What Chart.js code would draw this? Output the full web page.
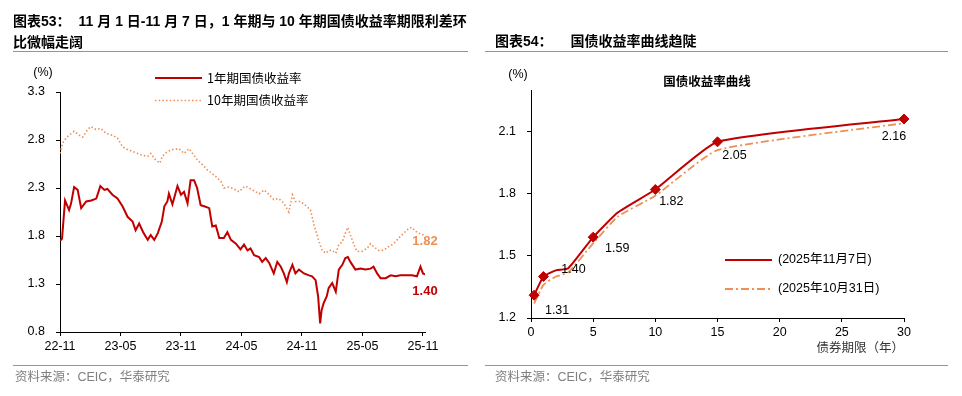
<!DOCTYPE html>
<html>
<head>
<meta charset="utf-8">
<script src="https://cdn.jsdelivr.net/npm/chart.js@4.4.0/dist/chart.umd.min.js"></script>
<style>
body{margin:0;background:#fff;width:962px;height:396px;position:relative;overflow:hidden;font-family:"Liberation Sans","Noto Sans CJK SC",sans-serif;}
canvas{position:absolute;top:0;}
.t{position:absolute;font-weight:bold;font-size:14px;line-height:21px;color:#000;white-space:nowrap;}
.rule{position:absolute;height:0;border-top:1px solid #8497b0;}
.src{position:absolute;font-size:12.5px;line-height:15px;color:#7f7f7f;white-space:nowrap;}
</style>
</head>
<body>
<canvas id="c1" width="480" height="396" style="left:0"></canvas>
<canvas id="c2" width="482" height="396" style="left:480px"></canvas>

<div class="t" style="left:13px;top:11px">图表53：<span style="margin-left:8px">11 月 1 日-11 月 7 日，1 年期与 10 年期国债收益率期限利差环</span><br>比微幅走阔</div>
<div class="rule" style="left:13px;top:51px;width:455px"></div>
<div class="rule" style="left:13px;top:365px;width:455px"></div>
<div class="src" style="left:15px;top:370px">资料来源：CEIC，华泰研究</div>

<div class="t" style="left:495px;top:31px">图表54：<span style="margin-left:18px">国债收益率曲线趋陡</span></div>
<div class="rule" style="left:485px;top:51px;width:463px"></div>
<div class="rule" style="left:485px;top:365px;width:463px"></div>
<div class="src" style="left:495px;top:370px">资料来源：CEIC，华泰研究</div>

<script>
// ---- left chart data (x = months since 2022-11) ----
var dateTicks = ['22-11','23-05','23-11','24-05','24-11','25-05','25-11'];
var tickMonths = [0, 6, 12, 18, 24, 30, 36];
var yTicksLeft = [0.8, 1.3, 1.8, 2.3, 2.8, 3.3];

var months1y = [0, 0.2, 0.5, 0.9, 1.1, 1.4, 1.75, 2.1, 2.6, 3.1, 3.6, 4.0, 4.4, 4.7, 5.2, 5.7, 6.2, 6.7, 7.2, 7.5,
  7.85, 8.25, 8.7, 9.0, 9.35, 9.7, 10.1, 10.35, 10.65, 10.8, 11.15, 11.65, 12.0, 12.3, 12.65, 12.95, 13.3, 13.6, 13.95, 14.3,
  14.8, 15.1, 15.45, 15.8, 16.25, 16.6, 16.95, 17.45, 17.9, 18.25, 18.6, 18.9, 19.25, 19.75, 20.05, 20.4, 20.75, 21.2, 21.55, 21.9,
  22.2, 22.5, 22.7, 23.05, 23.35, 23.7, 24.2, 24.7, 25.0, 25.35, 25.6, 25.8, 25.95, 26.15, 26.45, 26.65, 27.0, 27.35, 27.65, 28.0,
  28.3, 28.55, 28.8, 29.3, 29.8, 30.3, 30.8, 31.1, 31.45, 31.8, 32.3, 32.8, 33.3, 33.75, 34.4, 34.9, 35.4, 35.75, 36.0, 36.2];
var yield1y = [1.75, 1.77, 2.17, 2.07, 2.14, 2.31, 2.28, 2.09, 2.16, 2.17, 2.19, 2.32, 2.28, 2.29, 2.23, 2.19, 2.11, 2.00, 1.95, 1.86,
  1.93, 1.84, 1.76, 1.81, 1.76, 1.83, 1.95, 2.11, 2.16, 2.24, 2.13, 2.32, 2.23, 2.26, 2.14, 2.38, 2.38, 2.30, 2.12, 2.11,
  2.09, 1.90, 1.91, 1.78, 1.78, 1.84, 1.76, 1.72, 1.66, 1.71, 1.65, 1.67, 1.60, 1.58, 1.53, 1.57, 1.52, 1.41, 1.53, 1.48,
  1.41, 1.32, 1.41, 1.50, 1.41, 1.45, 1.41, 1.39, 1.38, 1.34, 1.17, 0.89, 1.03, 1.10, 1.17, 1.26, 1.31, 1.22, 1.45, 1.50,
  1.57, 1.58, 1.53, 1.45, 1.46, 1.45, 1.46, 1.48, 1.41, 1.36, 1.36, 1.39, 1.38, 1.39, 1.39, 1.39, 1.38, 1.48, 1.41, 1.40];

var months10y = [0, 0.26, 0.6, 0.9, 1.4, 1.9, 2.25, 2.75, 3.05, 3.55, 4.05, 4.55, 5.2, 5.7, 6.2, 6.7, 7.2, 7.7, 8.2, 8.7,
  9.0, 9.5, 9.9, 10.15, 10.65, 11.15, 11.8, 12.3, 12.8, 13.15, 13.65, 14.15, 14.6, 15.1, 15.45, 15.95, 16.25, 16.75, 17.25, 17.75,
  18.25, 18.4, 19.1, 19.75, 20.25, 20.75, 21.2, 21.7, 22.2, 22.7, 23.05, 23.35, 23.85, 24.35, 24.85, 25.2, 25.7, 26.0, 26.35, 26.65,
  27.0, 27.35, 27.65, 28.0, 28.3, 28.55, 28.8, 29.15, 29.45, 29.95, 30.45, 30.8, 31.1, 31.6, 32.1, 32.6, 33.1, 33.6, 34.1, 34.6,
  34.9, 35.25, 35.6, 35.9, 36.2];
var yield10y = [2.66, 2.77, 2.82, 2.85, 2.89, 2.85, 2.83, 2.91, 2.94, 2.91, 2.92, 2.87, 2.85, 2.82, 2.73, 2.70, 2.68, 2.66, 2.64, 2.63,
  2.66, 2.59, 2.56, 2.63, 2.68, 2.70, 2.71, 2.66, 2.71, 2.66, 2.59, 2.54, 2.49, 2.45, 2.42, 2.37, 2.30, 2.31, 2.29, 2.26,
  2.31, 2.32, 2.28, 2.24, 2.28, 2.23, 2.18, 2.19, 2.14, 2.05, 2.23, 2.16, 2.16, 2.12, 2.07, 1.91, 1.74, 1.65, 1.62, 1.65,
  1.65, 1.62, 1.71, 1.74, 1.83, 1.89, 1.81, 1.71, 1.64, 1.64, 1.67, 1.72, 1.69, 1.65, 1.65, 1.69, 1.72, 1.78, 1.83, 1.88,
  1.89, 1.85, 1.83, 1.81, 1.82];

// ---- right chart data (yield curve) ----
var tenors = [0.25, 1, 2, 3, 5, 7, 10, 15, 30];
var curveNov7 = [1.31, 1.40, 1.43, 1.44, 1.59, 1.71, 1.82, 2.05, 2.16];
var curveOct31 = [1.27, 1.36, 1.40, 1.42, 1.56, 1.69, 1.79, 2.01, 2.14];
var markedTenors = [0.25, 1, 5, 10, 15, 30];
var yTicksRight = [1.2, 1.5, 1.8, 2.1];

function pairs(xs, ys) {
  return xs.map(function (x, i) { return {x: x, y: ys[i]}; });
}

Chart.defaults.font.family = '"Liberation Sans", "Noto Sans CJK SC", sans-serif';
Chart.defaults.color = '#000';

var RED = '#C00000';
var ORANGE = '#EE8F55';

// legend, unit and end labels of the left chart
const leftDecor = {
  id: 'leftDecor',
  afterDatasetsDraw(chart) {
    const ctx = chart.ctx;
    ctx.save();
    ctx.textBaseline = 'middle';
    ctx.fillStyle = '#000';
    ctx.font = '12.5px "Liberation Sans"';
    ctx.textAlign = 'center';
    ctx.fillText('(%)', 43, 73);
    chart.data.datasets.forEach(function (ds, i) {
      var y = 78 + i * 22.5;
      ctx.strokeStyle = ds.borderColor;
      ctx.lineWidth = ds.borderWidth;
      ctx.setLineDash(ds.borderDash || []);
      ctx.beginPath(); ctx.moveTo(155, y); ctx.lineTo(202, y); ctx.stroke();
      ctx.setLineDash([]);
      ctx.fillStyle = '#000';
      ctx.textAlign = 'left';
      ctx.font = '12.5px "Noto Sans CJK SC"';
      ctx.fillText(ds.label, 207, y);
      // value label at the end of the line
      var pts = chart.getDatasetMeta(i).data;
      var last = pts[pts.length - 1];
      var val = ds.data[ds.data.length - 1].y;
      ctx.font = 'bold 13px "Liberation Sans"';
      ctx.fillStyle = ds.borderColor;
      ctx.textAlign = 'center';
      ctx.fillText(val.toFixed(2), last.x, last.y + (i === 0 ? 17 : 7));
    });
    ctx.restore();
  }
};

new Chart(document.getElementById('c1'), {
  type: 'line',
  data: {
    datasets: [
      {label: '1年期国债收益率', data: pairs(months1y, yield1y), borderColor: RED, borderWidth: 2, pointRadius: 0},
      {label: '10年期国债收益率', data: pairs(months10y, yield10y), borderColor: ORANGE, borderWidth: 1.6, borderDash: [1.5, 2.2], pointRadius: 0}
    ]
  },
  options: {
    responsive: false,
    animation: false,
    layout: {padding: {left: 0, top: 92, right: 55, bottom: 0}},
    plugins: {legend: {display: false}, tooltip: {enabled: false}},
    scales: {
      x: {
        type: 'linear', min: 0, max: 36.2,
        afterBuildTicks: function (s) { s.ticks = tickMonths.map(function (v) { return {value: v}; }); },
        afterFit: function (s) { s.height = 64; },
        ticks: {callback: function (v, i) { return dateTicks[i]; }, font: {size: 12.5}, padding: 3, maxRotation: 0, autoSkip: false},
        grid: {drawOnChartArea: false, tickLength: 4, color: '#000'},
        border: {color: '#000'}
      },
      y: {
        min: 0.8, max: 3.3,
        afterBuildTicks: function (s) { s.ticks = yTicksLeft.map(function (v) { return {value: v}; }); },
        afterFit: function (s) { s.width = 60; },
        ticks: {callback: function (v) { return v.toFixed(1); }, font: {size: 12.5}, padding: 11},
        grid: {drawOnChartArea: false, tickLength: 4, color: '#000'},
        border: {color: '#000'}
      }
    }
  },
  plugins: [leftDecor]
});

// labels, legend and inner title of the right chart
var labelOffsets = [[23, 15], [30, -7], [24, 11], [16, 12], [17, 14], [-10, 18]];
const rightDecor = {
  id: 'rightDecor',
  afterDatasetsDraw(chart) {
    const ctx = chart.ctx;
    ctx.save();
    ctx.textBaseline = 'middle';
    ctx.fillStyle = '#000';
    ctx.textAlign = 'center';
    ctx.font = '12.5px "Liberation Sans"';
    ctx.fillText('(%)', 38, 75);
    ctx.font = 'bold 12.5px "Noto Sans CJK SC"';
    ctx.fillText('国债收益率曲线', 227, 81);
    // point labels
    ctx.font = '12.5px "Liberation Sans"';
    var pts = chart.getDatasetMeta(0).data;
    var k = 0;
    tenors.forEach(function (t, i) {
      if (markedTenors.indexOf(t) < 0) return;
      var o = labelOffsets[k++];
      ctx.fillText(curveNov7[i].toFixed(2), pts[i].x + o[0], pts[i].y + o[1]);
    });
    // legend
    chart.data.datasets.forEach(function (ds, i) {
      var y = 260 + i * 29;
      ctx.strokeStyle = ds.borderColor;
      ctx.lineWidth = ds.borderWidth;
      ctx.setLineDash(ds.borderDash || []);
      ctx.beginPath(); ctx.moveTo(245, y); ctx.lineTo(292, y); ctx.stroke();
      ctx.setLineDash([]);
      ctx.textAlign = 'left';
      ctx.fillStyle = '#000';
      ctx.font = '12.5px "Liberation Sans", "Noto Sans CJK SC"';
      ctx.fillText(ds.label, 298, y);
    });
    ctx.restore();
  }
};

new Chart(document.getElementById('c2'), {
  type: 'line',
  data: {
    datasets: [
      {label: '(2025年11月7日)', data: pairs(tenors, curveNov7), borderColor: RED, borderWidth: 2,
        tension: 0.15, clip: false, pointStyle: 'rectRot',
        pointRadius: function (c) { return markedTenors.indexOf(tenors[c.dataIndex]) >= 0 ? 5 : 0; },
        pointBackgroundColor: RED, pointBorderColor: RED, pointBorderWidth: 1},
      {label: '(2025年10月31日)', data: pairs(tenors, curveOct31), borderColor: ORANGE, borderWidth: 1.8,
        borderDash: [8, 3, 2, 3], tension: 0.15, clip: false, pointRadius: 0}
    ]
  },
  options: {
    responsive: false,
    animation: false,
    layout: {padding: {left: 0, top: 90, right: 58, bottom: 41}},
    plugins: {legend: {display: false}, tooltip: {enabled: false}},
    scales: {
      x: {
        type: 'linear', min: 0, max: 30,
        ticks: {stepSize: 5, font: {size: 12.5}, padding: 3, maxRotation: 0},
        afterFit: function (s) { s.height = 37; },
        title: {display: true, text: '债券期限（年）', align: 'end', color: '#333',
          font: {size: 12.5, family: '"Noto Sans CJK SC"', lineHeight: 1.2}, padding: 0},
        grid: {drawOnChartArea: false, tickLength: 4, color: '#000'},
        border: {color: '#000'}
      },
      y: {
        min: 1.2, max: 2.3,
        afterBuildTicks: function (s) { s.ticks = yTicksRight.map(function (v) { return {value: v}; }); },
        afterFit: function (s) { s.width = 51; },
        ticks: {callback: function (v) { return v.toFixed(1); }, font: {size: 12.5}, padding: 11},
        grid: {drawOnChartArea: false, tickLength: 4, color: '#000'},
        border: {color: '#000'}
      }
    }
  },
  plugins: [rightDecor]
});
</script>
</body>
</html>
